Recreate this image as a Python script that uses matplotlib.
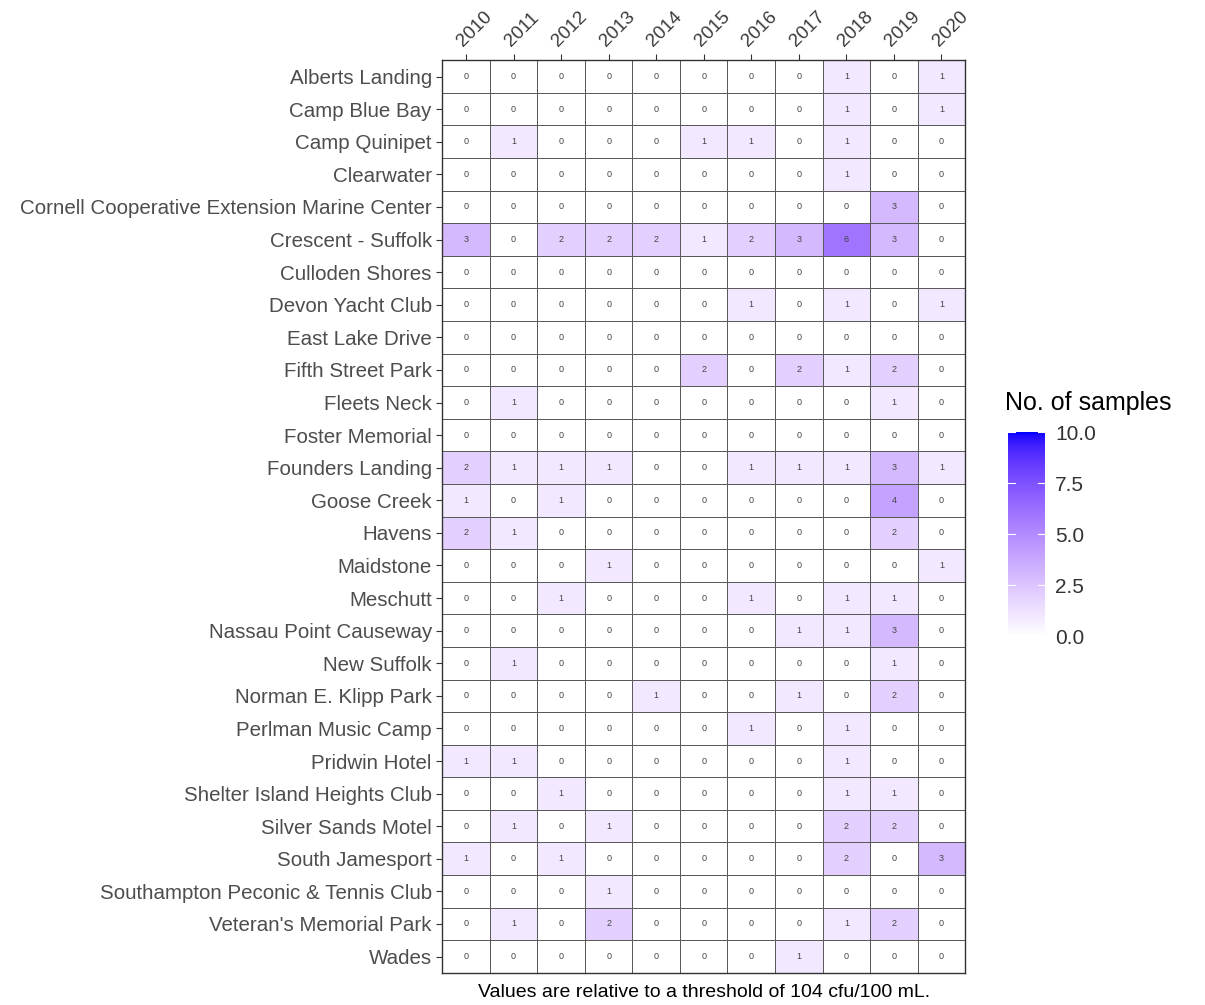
import numpy as np
import matplotlib
import matplotlib.pyplot as plt
from matplotlib.colors import ListedColormap

matplotlib.use("Agg")
plt.rcParams["font.family"] = ["Liberation Sans", "DejaVu Sans"]

years = ["2010", "2011", "2012", "2013", "2014", "2015", "2016", "2017", "2018", "2019", "2020"]
sites = [
    "Alberts Landing", "Camp Blue Bay", "Camp Quinipet", "Clearwater",
    "Cornell Cooperative Extension Marine Center", "Crescent - Suffolk",
    "Culloden Shores", "Devon Yacht Club", "East Lake Drive", "Fifth Street Park",
    "Fleets Neck", "Foster Memorial", "Founders Landing", "Goose Creek", "Havens",
    "Maidstone", "Meschutt", "Nassau Point Causeway", "New Suffolk",
    "Norman E. Klipp Park", "Perlman Music Camp", "Pridwin Hotel",
    "Shelter Island Heights Club", "Silver Sands Motel", "South Jamesport",
    "Southampton Peconic & Tennis Club", "Veteran's Memorial Park", "Wades",
]
counts = [
    [0, 0, 0, 0, 0, 0, 0, 0, 1, 0, 1],
    [0, 0, 0, 0, 0, 0, 0, 0, 1, 0, 1],
    [0, 1, 0, 0, 0, 1, 1, 0, 1, 0, 0],
    [0, 0, 0, 0, 0, 0, 0, 0, 1, 0, 0],
    [0, 0, 0, 0, 0, 0, 0, 0, 0, 3, 0],
    [3, 0, 2, 2, 2, 1, 2, 3, 6, 3, 0],
    [0, 0, 0, 0, 0, 0, 0, 0, 0, 0, 0],
    [0, 0, 0, 0, 0, 0, 1, 0, 1, 0, 1],
    [0, 0, 0, 0, 0, 0, 0, 0, 0, 0, 0],
    [0, 0, 0, 0, 0, 2, 0, 2, 1, 2, 0],
    [0, 1, 0, 0, 0, 0, 0, 0, 0, 1, 0],
    [0, 0, 0, 0, 0, 0, 0, 0, 0, 0, 0],
    [2, 1, 1, 1, 0, 0, 1, 1, 1, 3, 1],
    [1, 0, 1, 0, 0, 0, 0, 0, 0, 4, 0],
    [2, 1, 0, 0, 0, 0, 0, 0, 0, 2, 0],
    [0, 0, 0, 1, 0, 0, 0, 0, 0, 0, 1],
    [0, 0, 1, 0, 0, 0, 1, 0, 1, 1, 0],
    [0, 0, 0, 0, 0, 0, 0, 1, 1, 3, 0],
    [0, 1, 0, 0, 0, 0, 0, 0, 0, 1, 0],
    [0, 0, 0, 0, 1, 0, 0, 1, 0, 2, 0],
    [0, 0, 0, 0, 0, 0, 1, 0, 1, 0, 0],
    [1, 1, 0, 0, 0, 0, 0, 0, 1, 0, 0],
    [0, 0, 1, 0, 0, 0, 0, 0, 1, 1, 0],
    [0, 1, 0, 1, 0, 0, 0, 0, 2, 2, 0],
    [1, 0, 1, 0, 0, 0, 0, 0, 2, 0, 3],
    [0, 0, 0, 1, 0, 0, 0, 0, 0, 0, 0],
    [0, 1, 0, 2, 0, 0, 0, 0, 1, 2, 0],
    [0, 0, 0, 0, 0, 0, 0, 1, 0, 0, 0],
]
vmax = 10


def lab_to_rgb(L, a, b):
    fy = (L + 16) / 116
    fx = fy + a / 500
    fz = fy - b / 200

    def finv(t):
        return np.where(t > 6 / 29, t ** 3, 3 * (6 / 29) ** 2 * (t - 4 / 29))

    X, Y, Z = 0.95047 * finv(fx), finv(fy), 1.08883 * finv(fz)
    m = np.array([[3.2406, -1.5372, -0.4986],
                  [-0.9689, 1.8758, 0.0415],
                  [0.0557, -0.2040, 1.0570]])
    lin = m @ np.vstack([X, Y, Z])
    lin = np.clip(lin, 0, 1)
    rgb = np.where(lin <= 0.0031308, 12.92 * lin, 1.055 * lin ** (1 / 2.4) - 0.055)
    return np.clip(rgb.T, 0, 1)


# white -> blue, interpolated in Lab like ggplot's scale_fill_gradient
t = np.linspace(0, 1, 256)
lo = np.array([100.0, 0.0, 0.0])
hi = np.array([32.30, 79.19, -107.86])
lab = lo[None, :] + t[:, None] * (hi - lo)[None, :]
cmap = ListedColormap(lab_to_rgb(lab[:, 0], lab[:, 1], lab[:, 2]))

data = np.array(counts)
fig = plt.figure(figsize=(12.05, 10.05), dpi=100)
ax = fig.add_axes([0.367, 0.032, 0.434, 0.908])
mesh = ax.pcolormesh(data, cmap=cmap, vmin=0, vmax=vmax,
                     edgecolors="#5a5a5a", linewidth=0.5)
ax.set_xlim(0, len(years))
ax.set_ylim(len(sites), 0)

for i in range(len(sites)):
    for j in range(len(years)):
        ax.text(j + 0.5, i + 0.5, str(data[i, j]), ha="center", va="center",
                fontsize=6.5, color="#444444")

ax.xaxis.tick_top()
ax.set_xticks(np.arange(len(years)) + 0.5)
ax.set_xticklabels(years, rotation=45, ha="left", rotation_mode="anchor",
                   fontsize=13.5, color="#3a3a3a")
ax.set_yticks(np.arange(len(sites)) + 0.5)
ax.set_yticklabels(sites, fontsize=14.8, color="#4d4d4d")
ax.tick_params(length=4, color="#333333", width=0.8)
for s in ax.spines.values():
    s.set_color("#333333")
    s.set_linewidth(1.0)

ax.text(0.5, -0.012, "Values are relative to a threshold of 104 cfu/100 mL.",
        transform=ax.transAxes, ha="center", va="top", fontsize=14, color="black")

cax = fig.add_axes([0.8365, 0.367, 0.031, 0.203])
cb = fig.colorbar(mesh, cax=cax, ticks=[0, 2.5, 5, 7.5, 10])
cb.outline.set_visible(False)
cb.ax.set_yticklabels(["0.0", "2.5", "5.0", "7.5", "10.0"], fontsize=15, color="#333333")
cb.ax.tick_params(length=0, pad=7)
for v in [0, 2.5, 5, 7.5, 10]:
    cax.plot([0, 0.2], [v, v], color="white", lw=0.8)
    cax.plot([0.8, 1.0], [v, v], color="white", lw=0.8)
cax.set_xlim(0, 1)
fig.text(0.834, 0.587, "No. of samples", ha="left", va="bottom", fontsize=18)

fig.savefig("out.png", dpi=100)
